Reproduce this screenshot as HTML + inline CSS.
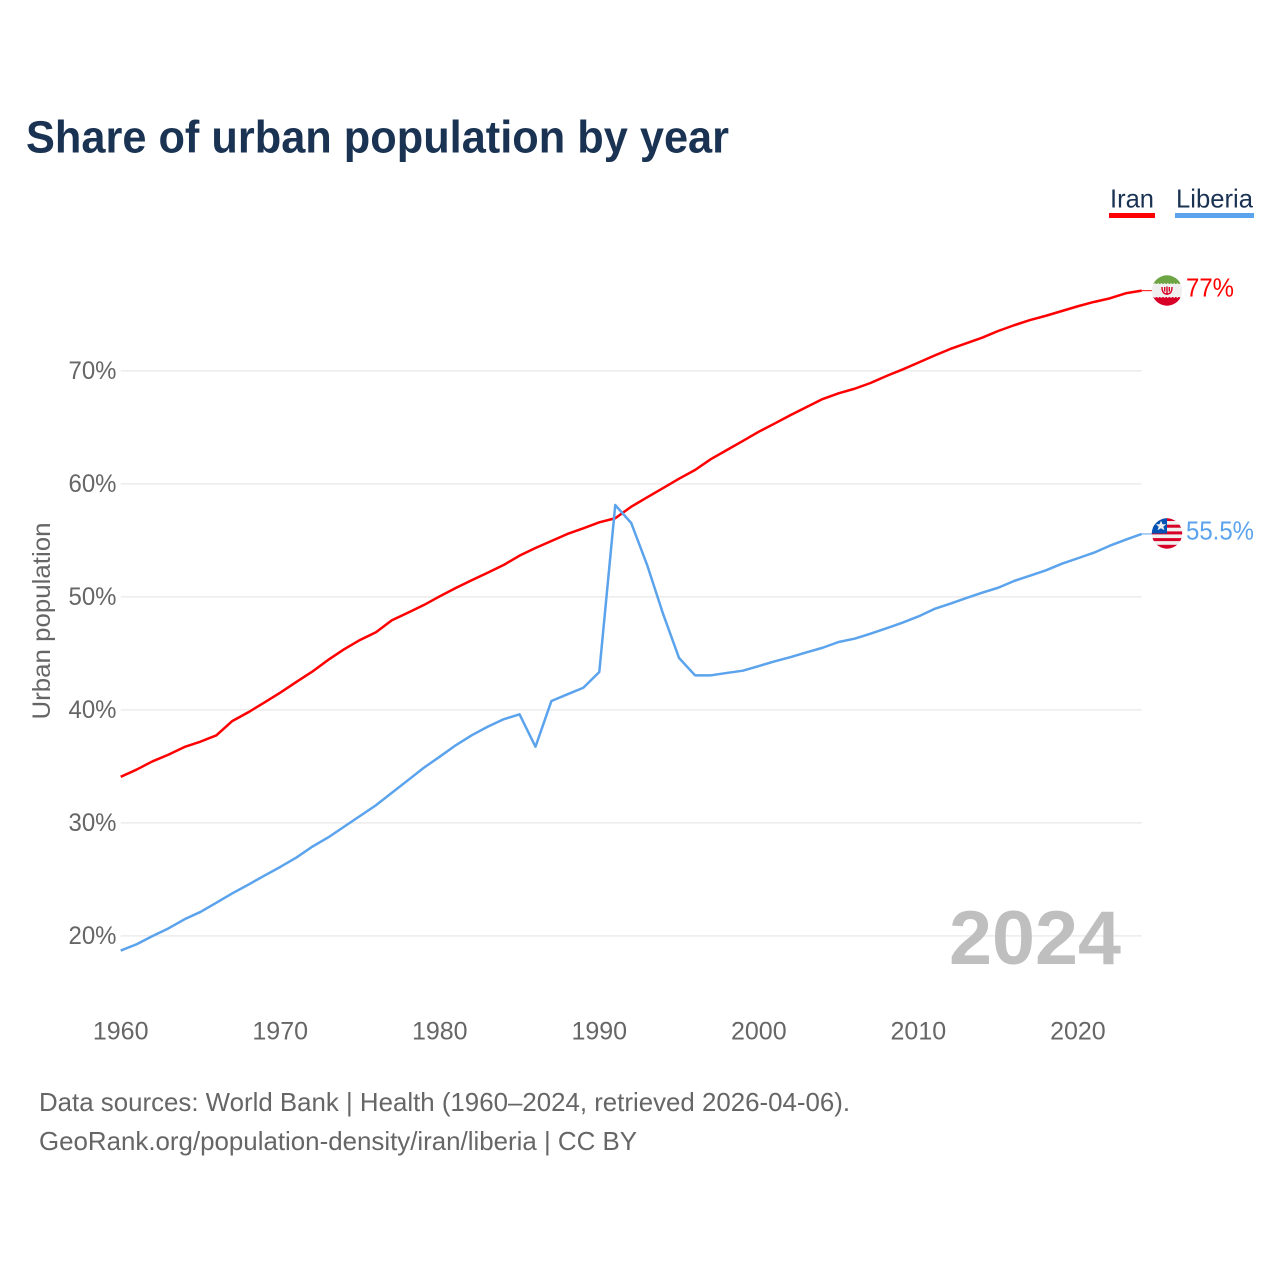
<!DOCTYPE html>
<html lang="en">
<head>
<meta charset="utf-8">
<title>Share of urban population by year</title>
<style>
html,body{margin:0;padding:0;background:#fff;}
svg{display:block;}
text{font-family:"Liberation Sans",sans-serif;}
</style>
</head>
<body>
<svg id="chart" xmlns="http://www.w3.org/2000/svg" width="1280" height="1280" viewBox="0 0 1280 1280">
  <rect width="1280" height="1280" fill="#ffffff"/>
  <text x="26" y="152.5" font-size="45" font-weight="700" fill="#1a3353" textLength="703" lengthAdjust="spacingAndGlyphs">Share of urban population by year</text>

  <g>
    <text x="1110" y="207.5" font-size="26" fill="#1a3353" textLength="44" lengthAdjust="spacingAndGlyphs">Iran</text>
    <rect x="1109" y="213" width="46" height="5" fill="#ff0000"/>
  </g>
  <g>
    <text x="1176" y="207.5" font-size="26" fill="#1a3353" textLength="77" lengthAdjust="spacingAndGlyphs">Liberia</text>
    <rect x="1175" y="213" width="79" height="5" fill="#5ba3ec"/>
  </g>

  <g id="grid"></g>
  <g id="yLabels"></g>
  <g id="xLabels"></g>

  <text transform="translate(50,621) rotate(-90)" text-anchor="middle" font-size="25" fill="#666666" textLength="197" lengthAdjust="spacingAndGlyphs">Urban population</text>
  <text x="949" y="964" font-size="76" font-weight="700" fill="#bfbfbf" textLength="172" lengthAdjust="spacingAndGlyphs">2024</text>

  <g id="series"></g>

  <defs>
    <clipPath id="iranClip"><circle cx="1167" cy="290.5" r="15.2"/></clipPath>
    <clipPath id="liberiaClip"><circle cx="1167" cy="533.5" r="15.2"/></clipPath>
  </defs>

  <g clip-path="url(#iranClip)">
    <rect x="1151" y="275" width="32" height="9" fill="#6da544"/>
    <rect x="1151" y="284" width="32" height="13" fill="#f0f0f0"/>
    <rect x="1151" y="297" width="32" height="10" fill="#d80027"/>
    <line x1="1151" y1="284" x2="1183" y2="284" stroke="#f0f0f0" stroke-width="1.6" stroke-dasharray="1.6 1.6"/>
    <line x1="1151" y1="297" x2="1183" y2="297" stroke="#f0f0f0" stroke-width="1.6" stroke-dasharray="1.6 1.6"/>
    <path d="M1162 287 q0 7 5 7 q5 0 5 -7 M1167 286.5 v8.5 M1164.7 287 v4.5 M1169.3 287 v4.5" fill="none" stroke="#d80027" stroke-width="1.4"/>
  </g>

  <g clip-path="url(#liberiaClip)">
    <rect x="1151" y="518" width="32" height="32" fill="#f0f0f0"/>
    <rect x="1151" y="518" width="32" height="3" fill="#d80027"/>
    <rect x="1151" y="524.7" width="32" height="3" fill="#d80027"/>
    <rect x="1151" y="531.4" width="32" height="3" fill="#d80027"/>
    <rect x="1151" y="538.1" width="32" height="3" fill="#d80027"/>
    <rect x="1151" y="544.8" width="32" height="5" fill="#d80027"/>
    <rect x="1151" y="518" width="16" height="15.5" fill="#0052b4"/>
    <polygon points="1161,520.6 1162.5,524.2 1166.3,524.2 1163.3,526.6 1164.4,530.3 1161,528.2 1157.6,530.3 1158.7,526.6 1155.7,524.2 1159.5,524.2" fill="#f0f0f0"/>
  </g>

  <text x="1186" y="296.5" font-size="26" fill="#ff0000" textLength="48" lengthAdjust="spacingAndGlyphs">77%</text>
  <text x="1186" y="539.5" font-size="26" fill="#5ba3ec" textLength="68" lengthAdjust="spacingAndGlyphs">55.5%</text>

  <text x="39" y="1111" font-size="26" fill="#666666" textLength="811" lengthAdjust="spacingAndGlyphs">Data sources: World Bank | Health (1960–2024, retrieved 2026-04-06).</text>
  <a>
    <text x="39" y="1150" font-size="26" fill="#666666" textLength="598" lengthAdjust="spacingAndGlyphs">GeoRank.org/population-density/iran/liberia | CC BY</text>
  </a>
</svg>

<script>
const firstYear = 1960;
const lastYear = 2024;
const yTickValues = [20, 30, 40, 50, 60, 70];
const yTickLabels = ["20%", "30%", "40%", "50%", "60%", "70%"];
const xTickValues = [1960, 1970, 1980, 1990, 2000, 2010, 2020];
const xTickLabels = ["1960", "1970", "1980", "1990", "2000", "2010", "2020"];

const iranValues = [
  34.08, 34.72, 35.45, 36.04, 36.72, 37.19, 37.75, 39.02, 39.79, 40.65,
  41.52, 42.46, 43.38, 44.42, 45.36, 46.19, 46.87, 47.93, 48.60, 49.28,
  50.05, 50.79, 51.47, 52.14, 52.82, 53.65, 54.33, 54.95, 55.57, 56.07,
  56.60, 56.96, 57.98, 58.81, 59.63, 60.46, 61.23, 62.20, 63.00, 63.80,
  64.62, 65.35, 66.10, 66.81, 67.51, 68.02, 68.42, 68.93, 69.55, 70.12,
  70.73, 71.35, 71.94, 72.44, 72.94, 73.53, 74.04, 74.50, 74.88, 75.30,
  75.72, 76.10, 76.42, 76.87, 77.10
];
const liberiaValues = [
  18.70, 19.26, 19.99, 20.67, 21.47, 22.12, 22.94, 23.77, 24.53, 25.33,
  26.10, 26.92, 27.89, 28.71, 29.66, 30.61, 31.56, 32.67, 33.77, 34.88,
  35.86, 36.87, 37.75, 38.51, 39.17, 39.61, 36.74, 40.79, 41.38, 41.96,
  43.35, 58.13, 56.54, 52.82, 48.49, 44.59, 43.06, 43.06, 43.27, 43.47,
  43.88, 44.30, 44.68, 45.10, 45.50, 46.01, 46.30, 46.74, 47.22, 47.72,
  48.27, 48.93, 49.40, 49.90, 50.37, 50.81, 51.41, 51.88, 52.35, 52.94,
  53.42, 53.91, 54.53, 55.06, 55.57
];

const NS = "http://www.w3.org/2000/svg";
const plotLeft = 120.7;
const plotRight = 1141.7;
const y20 = 935.9;
const pxPerPercent = 11.3;

function xScale(year) {
  return plotLeft + (year - firstYear) * (plotRight - plotLeft) / (lastYear - firstYear);
}
function yScale(value) {
  return y20 - (value - 20) * pxPerPercent;
}
function pointsFor(values) {
  return values.map(function (v, i) {
    return xScale(firstYear + i).toFixed(2) + "," + yScale(v).toFixed(2);
  }).join(" ");
}

const gridGroup = document.getElementById("grid");
const yLabelGroup = document.getElementById("yLabels");
const xLabelGroup = document.getElementById("xLabels");
const seriesGroup = document.getElementById("series");

yTickValues.forEach(function (tick, i) {
  const gridLine = document.createElementNS(NS, "line");
  
  
  gridLine.setAttribute("x1", plotLeft);
  gridLine.setAttribute("x2", plotRight);
  gridLine.setAttribute("y1", yScale(tick));
  gridLine.setAttribute("y2", yScale(tick));
  gridLine.setAttribute("stroke", "#ececec");
  gridLine.setAttribute("stroke-width", "1.5");
  gridGroup.appendChild(gridLine);

  const label = document.createElementNS(NS, "text");
  
  
  label.setAttribute("x", 116.5);
  label.setAttribute("y", yScale(tick) + 8);
  label.setAttribute("text-anchor", "end");
  label.setAttribute("font-size", "25");
  label.setAttribute("fill", "#666666");
  label.setAttribute("textLength", "48");
  label.setAttribute("lengthAdjust", "spacingAndGlyphs");
  label.textContent = yTickLabels[i];
  yLabelGroup.appendChild(label);
});

xTickValues.forEach(function (tick, i) {
  const label = document.createElementNS(NS, "text");
  
  
  label.setAttribute("x", xScale(tick));
  label.setAttribute("y", 1039.5);
  label.setAttribute("text-anchor", "middle");
  label.setAttribute("font-size", "25");
  label.setAttribute("fill", "#666666");
  label.textContent = xTickLabels[i];
  xLabelGroup.appendChild(label);
});

const iranLine = document.createElementNS(NS, "polyline");


iranLine.setAttribute("points", pointsFor(iranValues));
iranLine.setAttribute("fill", "none");
iranLine.setAttribute("stroke", "#ff0000");
iranLine.setAttribute("stroke-width", "2.5");
iranLine.setAttribute("stroke-linejoin", "round");
seriesGroup.appendChild(iranLine);

const liberiaLine = document.createElementNS(NS, "polyline");


liberiaLine.setAttribute("points", pointsFor(liberiaValues));
liberiaLine.setAttribute("fill", "none");
liberiaLine.setAttribute("stroke", "#5ba3ec");
liberiaLine.setAttribute("stroke-width", "2.5");
liberiaLine.setAttribute("stroke-linejoin", "round");
seriesGroup.appendChild(liberiaLine);

const iranLeader = document.createElementNS(NS, "line");


iranLeader.setAttribute("x1", xScale(lastYear));
iranLeader.setAttribute("x2", xScale(lastYear) + 11);
iranLeader.setAttribute("y1", yScale(iranValues[iranValues.length - 1]));
iranLeader.setAttribute("y2", yScale(iranValues[iranValues.length - 1]));
iranLeader.setAttribute("stroke", "#ff0000");
iranLeader.setAttribute("stroke-width", "1");
seriesGroup.appendChild(iranLeader);

const liberiaLeader = document.createElementNS(NS, "line");


liberiaLeader.setAttribute("x1", xScale(lastYear));
liberiaLeader.setAttribute("x2", xScale(lastYear) + 11);
liberiaLeader.setAttribute("y1", yScale(liberiaValues[liberiaValues.length - 1]));
liberiaLeader.setAttribute("y2", yScale(liberiaValues[liberiaValues.length - 1]));
liberiaLeader.setAttribute("stroke", "#5ba3ec");
liberiaLeader.setAttribute("stroke-width", "1");
seriesGroup.appendChild(liberiaLeader);
</script>
</body>
</html>
